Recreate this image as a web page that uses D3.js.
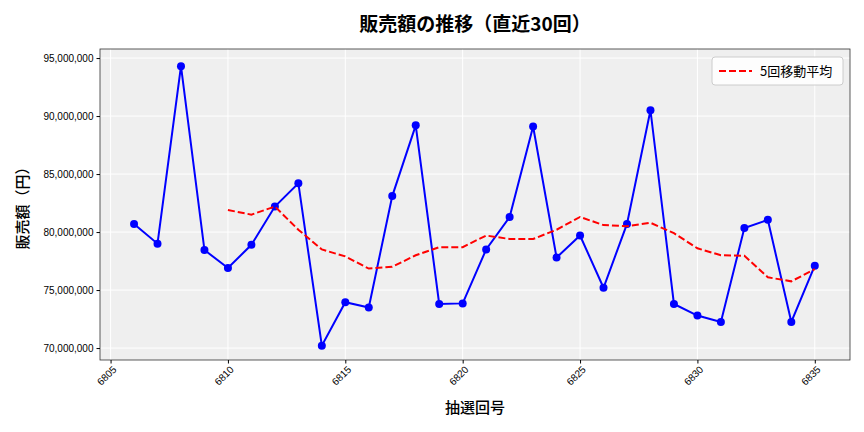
<!DOCTYPE html>
<html><head><meta charset="utf-8">
<script src="https://cdn.jsdelivr.net/npm/d3@7"></script>
<style>body{margin:0;background:#fff;font-family:"Noto Sans CJK JP","DejaVu Sans",sans-serif}</style>
</head><body><svg width="864" height="432"></svg>
<script>
const rounds = d3.range(6806, 6836);
const sales = [80.7,79.0,94.3,78.45,76.9,78.9,82.2,84.2,70.2,73.95,73.5,83.1,89.2,73.8,73.85,78.5,81.3,89.1,77.8,79.7,75.2,80.7,90.5,73.8,72.8,72.25,80.35,81.05,72.25,77.1].map(v => v * 1e6);
const maRounds = d3.range(6810, 6836);
const movingAvg = [81.9,81.5,82.2,80.2,78.5,77.9,76.85,77.0,78.0,78.7,78.7,79.7,79.4,79.4,80.2,81.3,80.6,80.5,80.8,79.9,78.6,78.0,77.95,76.1,75.75,76.8].map(v => v * 1e6);
const xTicks = [6805,6810,6815,6820,6825,6830,6835];
const yTicks = d3.range(70e6, 95e6 + 1, 5e6);

const svg = d3.select('svg');
const L = 100, R = 850, T = 49, B = 360;
const x = d3.scaleLinear().domain([6804.55, 6836.5]).range([L, R]);
const y = d3.scaleLinear().domain([68.97e6, 95.78e6]).range([B, T]);

svg.append('rect').attr('x', L).attr('y', T).attr('width', R - L).attr('height', B - T).attr('fill', '#efefef');
const g = svg.append('g');
xTicks.forEach(t => g.append('line').attr('x1', x(t)).attr('x2', x(t)).attr('y1', T).attr('y2', B).attr('stroke', '#fff'));
yTicks.forEach(t => g.append('line').attr('y1', y(t)).attr('y2', y(t)).attr('x1', L).attr('x2', R).attr('stroke', '#fff'));
svg.append('rect').attr('x', L).attr('y', T).attr('width', R - L).attr('height', B - T).attr('fill', 'none').attr('stroke', '#333').attr('stroke-width', 0.8);

const xa = svg.append('g').attr('transform', `translate(0,${B})`)
  .call(d3.axisBottom(x).tickValues(xTicks).tickFormat(d3.format('d')).tickSize(3.5));
xa.selectAll('text').attr('font-size', 10).attr('transform', 'rotate(-45)').attr('text-anchor', 'end').attr('dx', '-0.3em').attr('dy', '0.5em');
const ya = svg.append('g').attr('transform', `translate(${L},0)`)
  .call(d3.axisLeft(y).tickValues(yTicks).tickFormat(d3.format(',')).tickSize(3.5));
ya.selectAll('text').attr('font-size', 10);
svg.selectAll('.domain').remove();

const pts = rounds.map((r, i) => [r, sales[i]]);
svg.append('path').datum(pts).attr('fill', 'none').attr('stroke', '#0000ff').attr('stroke-width', 2)
  .attr('d', d3.line().x(d => x(d[0])).y(d => y(d[1])));
svg.selectAll('circle').data(pts).join('circle').attr('cx', d => x(d[0])).attr('cy', d => y(d[1])).attr('r', 4).attr('fill', '#0000ff');
svg.append('path').datum(maRounds.map((r, i) => [r, movingAvg[i]])).attr('fill', 'none').attr('stroke', '#ff0000')
  .attr('stroke-width', 2).attr('stroke-dasharray', '7,3').attr('d', d3.line().x(d => x(d[0])).y(d => y(d[1])));

const lg = svg.append('g').attr('transform', 'translate(712,57)');
lg.append('rect').attr('x', 0).attr('y', 0).attr('width', 131).attr('height', 28).attr('rx', 3).attr('fill', '#fff').attr('fill-opacity', 0.85).attr('stroke', '#ccc');
lg.append('line').attr('x1', 7).attr('x2', 40).attr('y1', 14).attr('y2', 14).attr('stroke', '#ff0000').attr('stroke-width', 2).attr('stroke-dasharray', '7,3');
lg.append('text').attr('x', 48).attr('y', 19).attr('font-size', 13).text('5回移動平均');

svg.append('text').attr('x', (L + R) / 2).attr('y', 31).attr('text-anchor', 'middle').attr('font-size', 19).attr('font-weight', 'bold').text('販売額の推移（直近30回）');
svg.append('text').attr('x', (L + R) / 2).attr('y', 413).attr('text-anchor', 'middle').attr('font-size', 15).attr('font-weight', 500).text('抽選回号');
svg.append('text').attr('transform', `translate(28,${(T + B) / 2}) rotate(-90)`).attr('text-anchor', 'middle').attr('font-size', 15).attr('font-weight', 500).text('販売額（円）');
</script></body></html>
